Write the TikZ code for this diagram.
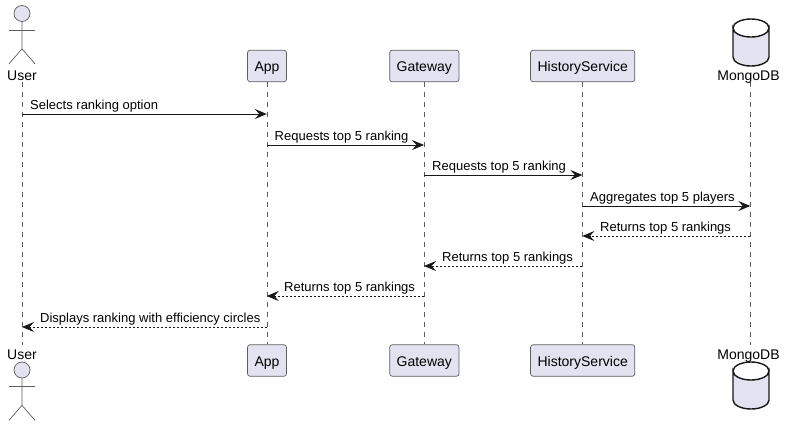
\documentclass[tikz,border=0pt]{standalone}
\usepackage{fontspec}
\setmainfont{Liberation Sans}
\usetikzlibrary{arrows.meta}
\definecolor{partfill}{HTML}{E2E2F0}
\definecolor{partline}{HTML}{181818}
\tikzset{
    %Define standard arrow tip
    >={Stealth[length=12pt,width=10pt,inset=4.5pt]},
    %Define style for boxes
    partbox/.style={
           rectangle,
           rounded corners=2.5pt,
           draw=partline!70, line width=.7pt,
           fill=partfill,
           minimum height=31.5pt,
           inner xsep=7pt,
           inner ysep=0pt,
           text height=11.5pt,
           text depth=0pt,
           font=\fontsize{14}{14}\selectfont
           },
    partlabel/.style={
           inner sep=0pt,
           text height=14pt,
           text depth=2pt,
           font=\fontsize{14}{14}\selectfont
           },
    msglabel/.style={
           inner sep=0pt,
           anchor=base west,
           font=\fontsize{13}{13}\selectfont
           },
    % Define line styles
    lifeline/.style={
           draw=partline!70, line width=.6pt,
           dash pattern=on 5pt off 5pt},
    call/.style={
           ->, draw=partline, line width=1pt},
    reply/.style={
           ->, draw=partline, line width=.8pt,
           dash pattern=on 2pt off 2pt},
    actorline/.style={
           draw=partline!70, line width=.7pt},
    dbline/.style={
           draw=partline, line width=1.4pt, fill=partfill}
}

\begin{document}
\begin{tikzpicture}[x=1pt,y=-1pt]
\useasboundingbox (0,0) rectangle (785,426);

 %lifelines first, boxes go on top
\node[partlabel] (userT) at (22,74) {User};
\node[partlabel] (userB) at (22,353) {User};
\node[partlabel] (mongoT) at (748.5,74) {MongoDB};
\node[partlabel] (mongoB) at (748.5,353) {MongoDB};
\coordinate (userLT) at (22,82);
\coordinate (userLB) at (22,345);
\coordinate (appLT) at (266.8,82);
\coordinate (appLB) at (266.8,344);
\coordinate (gateLT) at (424,82);
\coordinate (gateLB) at (424,344);
\coordinate (histLT) at (582.4,82);
\coordinate (histLB) at (582.4,344);
\coordinate (mongoLT) at (750.3,82);
\coordinate (mongoLB) at (750.3,345);

\foreach \a/\b in {userLT/userLB,appLT/appLB,gateLT/gateLB,histLT/histLB,mongoLT/mongoLB}
  \draw[lifeline] (\a) -- (\b);

 %boxes
\foreach \n/\x/\t in {app/267/App,gate/424.3/Gateway,hist/582.7/HistoryService}{
  \node[partbox] (\n Top) at (\x,66) {\t};
  \node[partbox] (\n Bot) at (\x,360.5) {\t};
}

 %actor, top and bottom
\foreach \n/\y in {actT/13.5,actB/370}{
  \node[circle,draw=partline!70,line width=.7pt,fill=partfill,minimum size=16pt,inner sep=0pt] (\n) at (22,\y) {};
  \draw[actorline] (\n.south) -- ++(0,27) -- ++(-13,15);
  \draw[actorline] (\n.south) ++(0,27) -- ++(13,15);
  \draw[actorline] (\n.south) ++(-13,8) -- ++(26,0);
}

 %database, top and bottom
\foreach \y in {19,362}{
  \draw[dbline] (733,\y+9) arc[start angle=180,end angle=0,x radius=18,y radius=9]
     -- (769,\y+38) arc[start angle=0,end angle=180,x radius=18,y radius=9] -- cycle;
  \draw[dbline,fill=none] (733,\y+9) arc[start angle=180,end angle=360,x radius=18,y radius=9];
}

 %messages
\foreach \i/\y/\a/\b/\s/\o/\t in {
    1/114/userLT/appLT/call/30/Selects ranking option,
    2/145/appLT/gateLT/call/274.5/Requests top 5 ranking,
    3/175/gateLT/histLT/call/432/Requests top 5 ranking,
    4/206/histLT/mongoLT/call/590/Aggregates top 5 players,
    5/236/mongoLT/histLT/reply/600/Returns top 5 rankings,
    6/266/histLT/gateLT/reply/442/Returns top 5 rankings,
    7/296/gateLT/appLT/reply/284/Returns top 5 rankings,
    8/327/appLT/userLT/reply/40/Displays ranking with efficiency circles}{
  \coordinate (row\i) at (0,\y);
  \draw[\s] (\a |- row\i) -- (\b |- row\i);
  \node[msglabel] (msg\i) at (\o,\y-4.1) {\t};
}

\end{tikzpicture}
\end{document}
